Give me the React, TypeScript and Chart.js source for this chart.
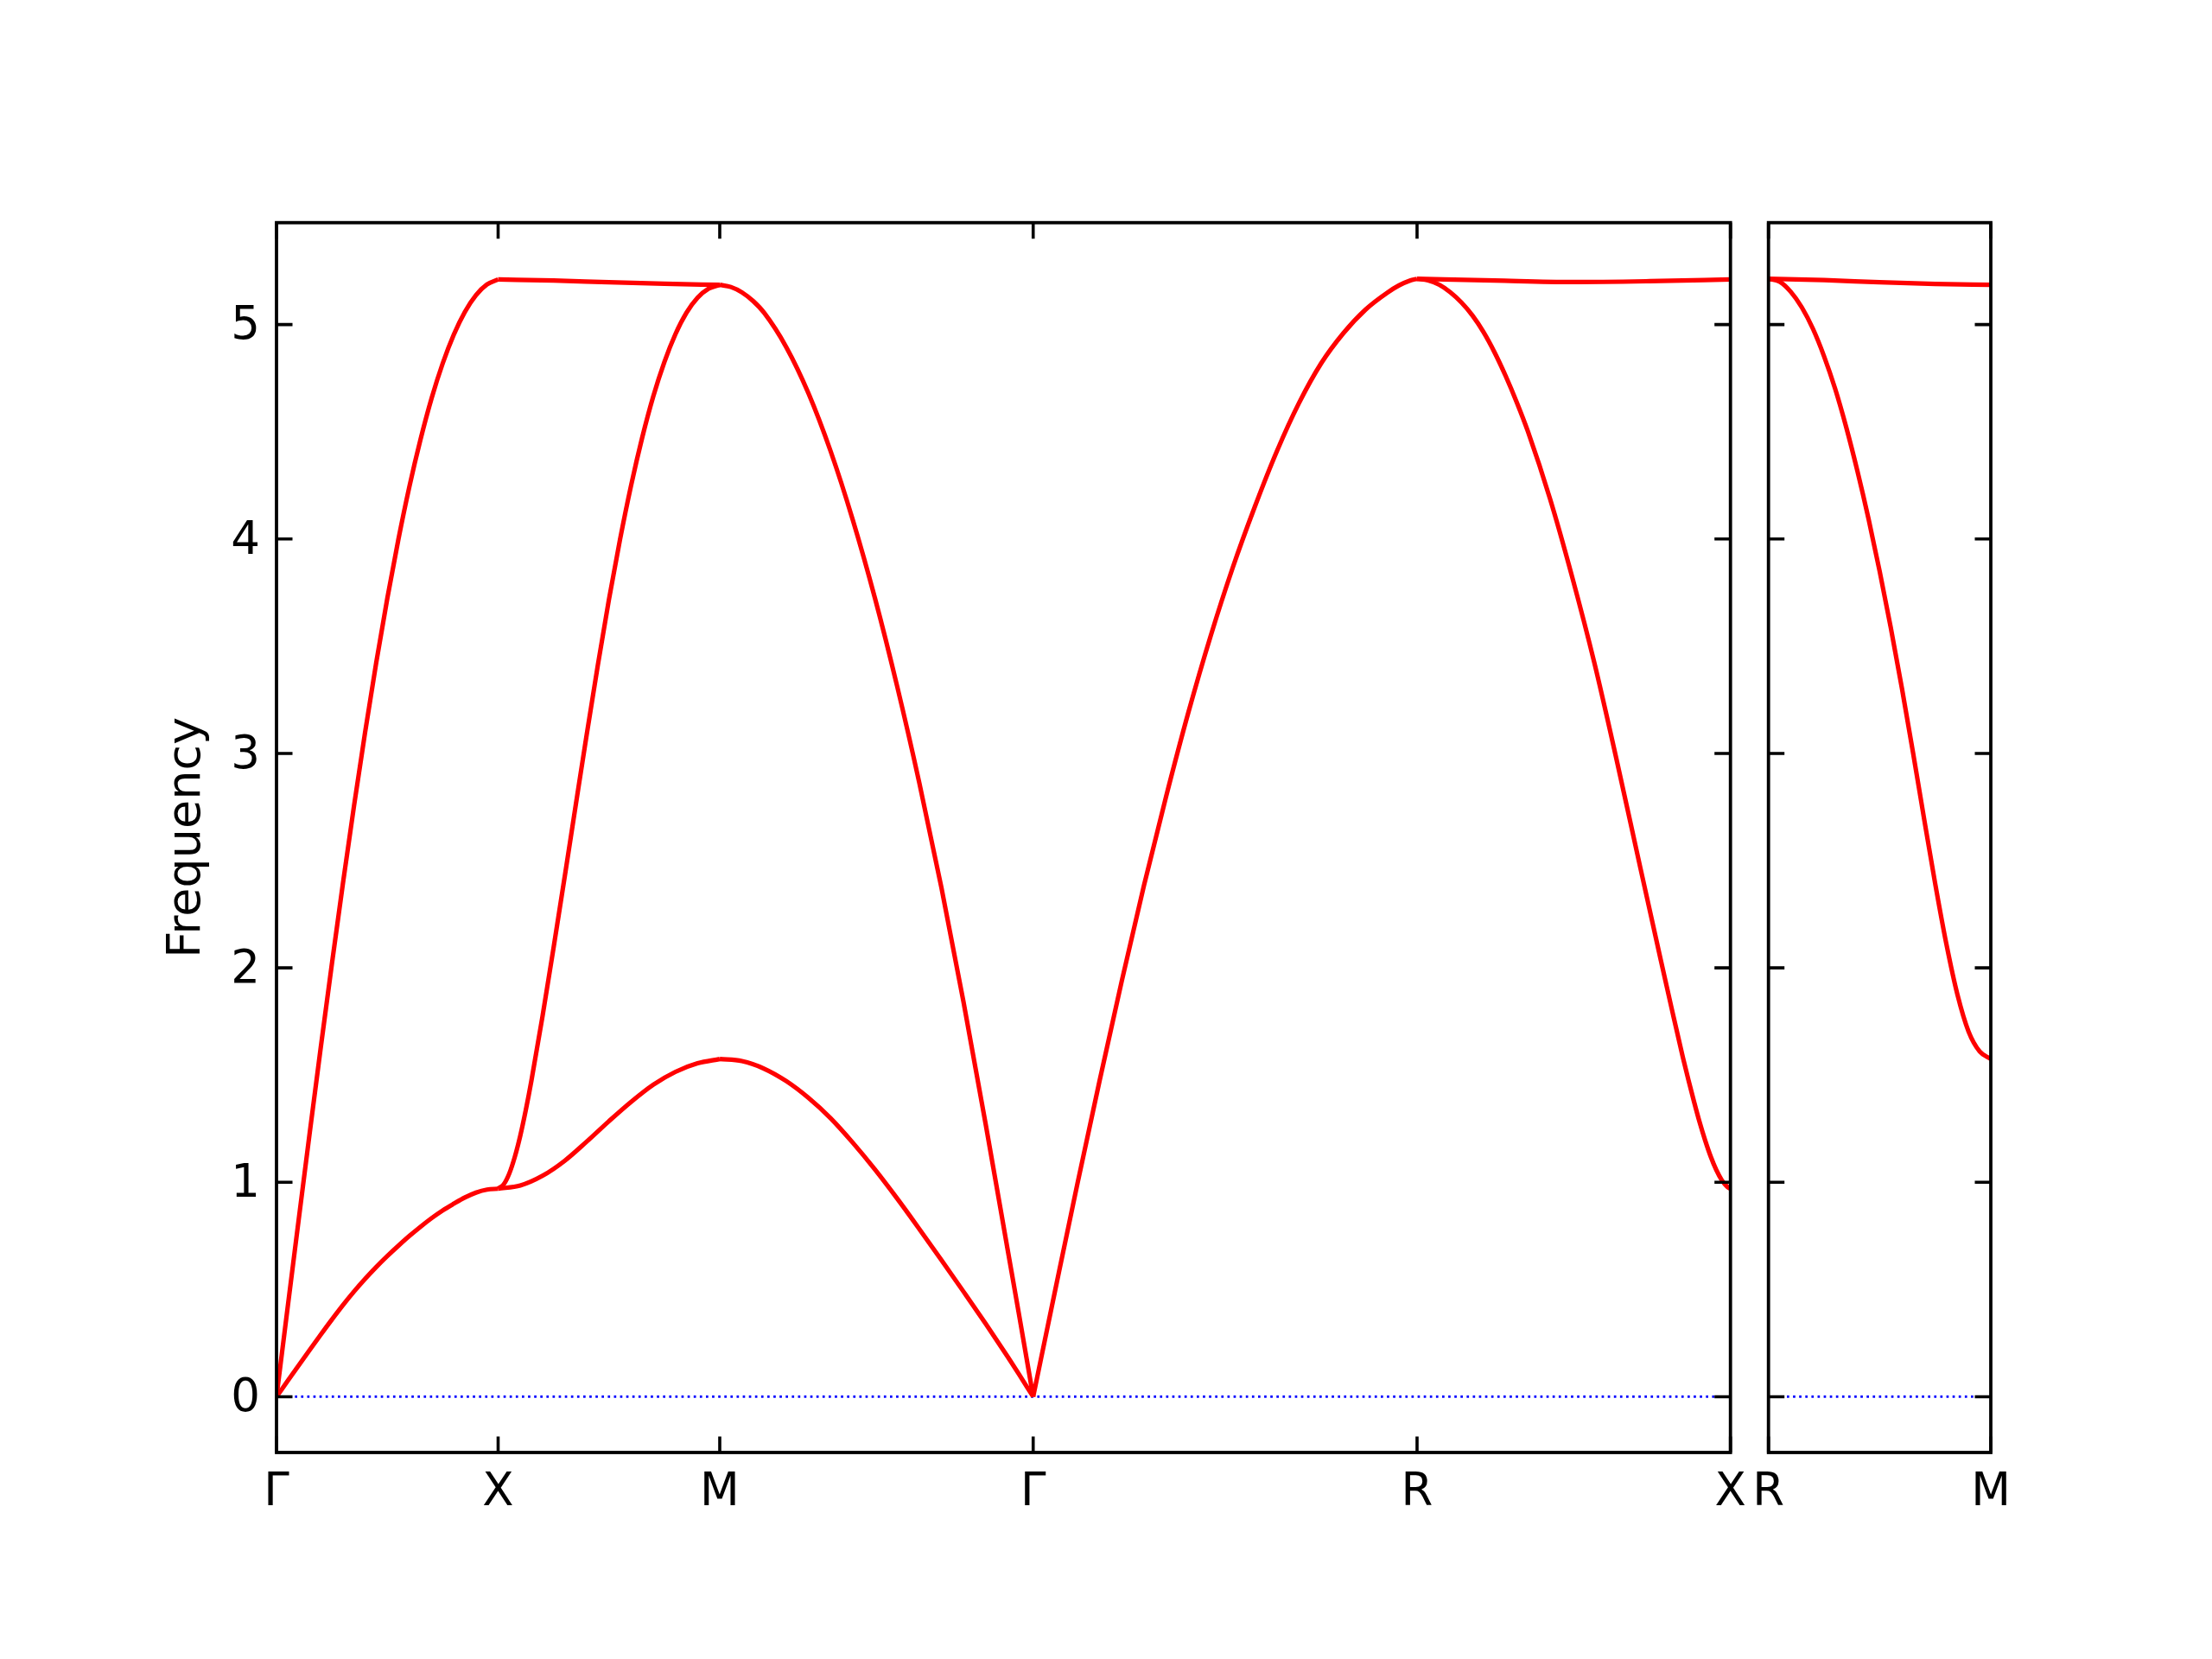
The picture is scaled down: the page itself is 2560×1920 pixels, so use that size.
import React, { useEffect, useRef } from 'react';
import { Chart, registerables } from 'chart.js';

Chart.register(...registerables);

// ---------- axes / labels ----------
const tickPos = [0, 1, 2, 3.4142, 5.1463, 6.5604];
const tickLabels = ['Γ', 'X', 'M', 'Γ', 'R', 'X'];
const sideTickPos = [0, 1];
const sideTickLabels = ['R', 'M'];
const yTicks = [0, 1, 2, 3, 4, 5];
const yMin = -0.26;
const yMax = 5.475;

// ---------- Γ → X ----------
const kGX = [0, 0.05, 0.1, 0.15, 0.2, 0.25, 0.3, 0.35, 0.4, 0.45, 0.5, 0.55, 0.6, 0.65, 0.7, 0.75, 0.8, 0.85, 0.9, 0.95, 1];
const gxUpper = [0, 0.414, 0.825, 1.232, 1.631, 2.019, 2.396, 2.757, 3.1, 3.423, 3.723, 3.998, 4.246, 4.465, 4.657, 4.819, 4.953, 5.059, 5.137, 5.187, 5.21];
const gxLower = [0, 0.073, 0.146, 0.2185, 0.29, 0.36, 0.4275, 0.491, 0.55, 0.605, 0.656, 0.704, 0.75, 0.793, 0.833, 0.869, 0.9, 0.929, 0.952, 0.966, 0.97];

// ---------- X → M ----------
const kXM = [0, 0.025, 0.05, 0.075, 0.1, 0.125, 0.15, 0.2, 0.25, 0.3, 0.35, 0.4, 0.45, 0.5, 0.55, 0.6, 0.65, 0.7, 0.75, 0.8, 0.85, 0.9, 0.95, 1];
const xmMiddle = [0.97, 0.99, 1.04, 1.1175, 1.2175, 1.3375, 1.4725, 1.7725, 2.0925, 2.4225, 2.7575, 3.09, 3.4125, 3.7175, 3.9975, 4.25, 4.4725, 4.665, 4.825, 4.955, 5.055, 5.125, 5.1675, 5.185];
const kXMlow = [0, 0.1, 0.2, 0.3, 0.4, 0.5, 0.6, 0.7, 0.8, 0.9, 1];
const xmLower = [0.97, 0.985, 1.03, 1.1, 1.19, 1.285, 1.375, 1.455, 1.515, 1.555, 1.575];
const kXMtop = [0, 0.25, 0.5, 0.75, 1];
const xmTop = [5.21, 5.205, 5.197, 5.19, 5.185];

// ---------- M → Γ ----------
const kMGu = [0, 0.05, 0.1, 0.15, 0.2, 0.3, 0.4, 0.5, 0.6, 0.7, 0.8, 0.9, 1.0, 1.1, 1.2, 1.3, 1.35, 1.4142];
const mgUpper = [5.185, 5.175, 5.15, 5.11, 5.055, 4.895, 4.68, 4.41, 4.09, 3.725, 3.315, 2.865, 2.375, 1.84, 1.27, 0.68, 0.385, 0];
const kMGl = [0, 0.1, 0.2, 0.3, 0.4, 0.5, 0.6, 0.7, 0.8, 0.9, 1.0, 1.1, 1.2, 1.3, 1.35, 1.4142];
const mgLower = [1.575, 1.565, 1.53, 1.472, 1.394, 1.299, 1.185, 1.06, 0.925, 0.783, 0.638, 0.49, 0.34, 0.185, 0.105, 0];

// ---------- Γ → R ----------
const kGR = [0, 0.1, 0.2, 0.3, 0.4, 0.5, 0.6, 0.7, 0.8, 0.9, 1.0, 1.1, 1.2, 1.3, 1.4, 1.5, 1.6, 1.65, 1.7, 1.7321];
const grBand = [0, 0.5, 0.995, 1.475, 1.94, 2.385, 2.8, 3.19, 3.545, 3.865, 4.15, 4.41, 4.635, 4.82, 4.96, 5.07, 5.15, 5.182, 5.205, 5.213];

// ---------- R → X ----------
const kRX = [0, 0.05, 0.1, 0.15, 0.2, 0.25, 0.3, 0.35, 0.4, 0.45, 0.5, 0.6, 0.7, 0.8, 0.9, 1.0, 1.1, 1.15, 1.2, 1.225, 1.25, 1.275, 1.3, 1.325, 1.35, 1.375, 1.4, 1.4142];
const rxLower = [5.213, 5.2055, 5.1855, 5.1505, 5.103, 5.042, 4.9645, 4.8695, 4.7595, 4.637, 4.502, 4.187, 3.822, 3.422, 2.972, 2.502, 2.035, 1.805, 1.58, 1.475, 1.375, 1.28, 1.195, 1.12, 1.058, 1.01, 0.979, 0.97];
const kRXtop = [0, 0.35, 0.7, 1.05, 1.4142];
const rxTop = [5.213, 5.205, 5.198, 5.202, 5.21];

// ---------- side panel R → M ----------
const kRM = [0, 0.05, 0.1, 0.15, 0.2, 0.25, 0.3, 0.35, 0.4, 0.45, 0.5, 0.55, 0.6, 0.65, 0.7, 0.75, 0.8, 0.85, 0.9, 0.95, 1];
const rmLower = [5.213, 5.2, 5.153, 5.08, 4.98, 4.852, 4.7, 4.52, 4.317, 4.094, 3.85, 3.587, 3.305, 3.005, 2.695, 2.392, 2.112, 1.875, 1.703, 1.61, 1.575];
const kRMtop = [0, 0.25, 0.5, 0.75, 1];
const rmTop = [5.213, 5.207, 5.197, 5.189, 5.185];

// ---------- layout ----------
const W = 2560;
const H = 1920;
const AREA_TOP = 257.7;
const AREA_BOTTOM = 1681;
const MAIN_LEFT = 320;
const MAIN_RIGHT = 2002.7;
const SIDE_LEFT = 2046.7;
const SIDE_RIGHT = 2304;
const FONT = { family: "'DejaVu Sans', 'Liberation Sans', sans-serif", size: 53 };
const TITLE_FONT = { family: "'DejaVu Sans', 'Liberation Sans', sans-serif", size: 54 };
const RED = '#ff0000';
const BLUE = '#0000ff';
const LINE_W = 5.2;
const DOT_W = 2.7;
const FRAME_W = 3.8;
const TICK_W = 3.6;
const TICK_LEN = 18.5;

function seg(start: number, ks: number[], vs: number[]) {
  return ks.map((k, i) => ({ x: start + k, y: vs[i] }));
}

function band(data: { x: number; y: number }[]) {
  return {
    data,
    borderColor: RED,
    borderWidth: LINE_W,
    pointRadius: 0,
    fill: false,
    cubicInterpolationMode: 'monotone' as const,
    borderJoinStyle: 'round' as const,
  };
}

function zeroLine(x0: number, x1: number) {
  return {
    data: [
      { x: x0, y: 0 },
      { x: x1, y: 0 },
    ],
    borderColor: BLUE,
    borderWidth: DOT_W,
    borderDash: [DOT_W, 4.4],
    pointRadius: 0,
    fill: false,
  };
}

const framePlugin = {
  id: 'frame',
  afterDatasetsDraw(chart: any, _args: any, opts: any) {
    const { ctx, chartArea, scales } = chart;
    const { left, right, top, bottom } = chartArea;
    const xs = scales.x;
    const ys = scales.y;
    ctx.save();
    ctx.strokeStyle = '#000';
    ctx.lineCap = 'butt';
    ctx.lineWidth = TICK_W;
    ctx.beginPath();
    (opts.xTicks as number[]).forEach((v) => {
      const px = xs.getPixelForValue(v);
      ctx.moveTo(px, bottom);
      ctx.lineTo(px, bottom - TICK_LEN);
      ctx.moveTo(px, top);
      ctx.lineTo(px, top + TICK_LEN);
    });
    (opts.yTicks as number[]).forEach((v) => {
      const py = ys.getPixelForValue(v);
      ctx.moveTo(left, py);
      ctx.lineTo(left + TICK_LEN, py);
      ctx.moveTo(right, py);
      ctx.lineTo(right - TICK_LEN, py);
    });
    ctx.stroke();
    ctx.lineWidth = FRAME_W;
    ctx.lineJoin = 'miter';
    ctx.strokeRect(left, top, right - left, bottom - top);
    ctx.restore();
  },
};

function xScale(pos: number[], labels: string[]) {
  return {
    type: 'linear',
    position: 'bottom',
    min: pos[0],
    max: pos[pos.length - 1],
    afterBuildTicks: (s: any) => {
      s.ticks = pos.map((v) => ({ value: v }));
    },
    afterFit: (s: any) => {
      s.height = H - AREA_BOTTOM;
    },
    ticks: {
      autoSkip: false,
      maxRotation: 0,
      minRotation: 0,
      padding: 15,
      color: '#000',
      font: FONT,
      callback: (_v: any, i: number) => labels[i],
    },
    grid: { display: false, drawTicks: false },
    border: { display: false },
  };
}

function mainConfig(): any {
  const datasets = [
    band(seg(tickPos[0], kGX, gxUpper)),
    band(seg(tickPos[0], kGX, gxLower)),
    band(seg(tickPos[1], kXM, xmMiddle)),
    band(seg(tickPos[1], kXMlow, xmLower)),
    band(seg(tickPos[1], kXMtop, xmTop)),
    band(seg(tickPos[2], kMGu, mgUpper)),
    band(seg(tickPos[2], kMGl, mgLower)),
    band(seg(tickPos[3], kGR, grBand)),
    band(seg(tickPos[4], kRX, rxLower)),
    band(seg(tickPos[4], kRXtop, rxTop)),
    zeroLine(tickPos[0], tickPos[tickPos.length - 1]),
  ];
  return {
    type: 'line',
    data: { datasets },
    plugins: [framePlugin],
    options: {
      responsive: false,
      animation: false,
      devicePixelRatio: 1,
      events: [],
      layout: { padding: { left: 0, top: AREA_TOP, right: W - MAIN_RIGHT, bottom: 0 } },
      plugins: {
        legend: { display: false },
        tooltip: { enabled: false },
        frame: { xTicks: tickPos, yTicks },
      },
      scales: {
        x: xScale(tickPos, tickLabels),
        y: {
          type: 'linear',
          position: 'left',
          min: yMin,
          max: yMax,
          afterBuildTicks: (s: any) => {
            s.ticks = yTicks.map((v) => ({ value: v }));
          },
          afterFit: (s: any) => {
            s.width = MAIN_LEFT;
          },
          ticks: {
            padding: 19,
            labelOffset: 3,
            color: '#000',
            font: FONT,
            callback: (v: any) => String(v),
          },
          grid: { display: false, drawTicks: false },
          border: { display: false },
          title: {
            display: true,
            text: 'Frequency',
            color: '#000',
            font: TITLE_FONT,
            padding: { top: 185, bottom: 0 },
          },
        },
      },
    },
  };
}

function sideConfig(): any {
  const datasets = [
    band(seg(sideTickPos[0], kRM, rmLower)),
    band(seg(sideTickPos[0], kRMtop, rmTop)),
    zeroLine(sideTickPos[0], sideTickPos[1]),
  ];
  return {
    type: 'line',
    data: { datasets },
    plugins: [framePlugin],
    options: {
      responsive: false,
      animation: false,
      devicePixelRatio: 1,
      events: [],
      layout: { padding: { left: SIDE_LEFT, top: AREA_TOP, right: W - SIDE_RIGHT, bottom: 0 } },
      plugins: {
        legend: { display: false },
        tooltip: { enabled: false },
        frame: { xTicks: sideTickPos, yTicks },
      },
      scales: {
        x: xScale(sideTickPos, sideTickLabels),
        y: {
          type: 'linear',
          display: false,
          min: yMin,
          max: yMax,
        },
      },
    },
  };
}

export default function App() {
  const mainRef = useRef<HTMLCanvasElement | null>(null);
  const sideRef = useRef<HTMLCanvasElement | null>(null);

  useEffect(() => {
    document.body.style.margin = '0';
    document.body.style.background = '#ffffff';
    const c1 = new Chart(mainRef.current as HTMLCanvasElement, mainConfig());
    const c2 = new Chart(sideRef.current as HTMLCanvasElement, sideConfig());
    return () => {
      c1.destroy();
      c2.destroy();
    };
  }, []);

  const canvasStyle: React.CSSProperties = {
    position: 'absolute',
    left: 0,
    top: 0,
    width: W,
    height: H,
  };

  return (
    <div style={{ position: 'relative', width: W, height: H, background: '#ffffff', overflow: 'hidden' }}>
      <canvas ref={mainRef} width={W} height={H} style={canvasStyle} />
      <canvas ref={sideRef} width={W} height={H} style={canvasStyle} />
    </div>
  );
}
